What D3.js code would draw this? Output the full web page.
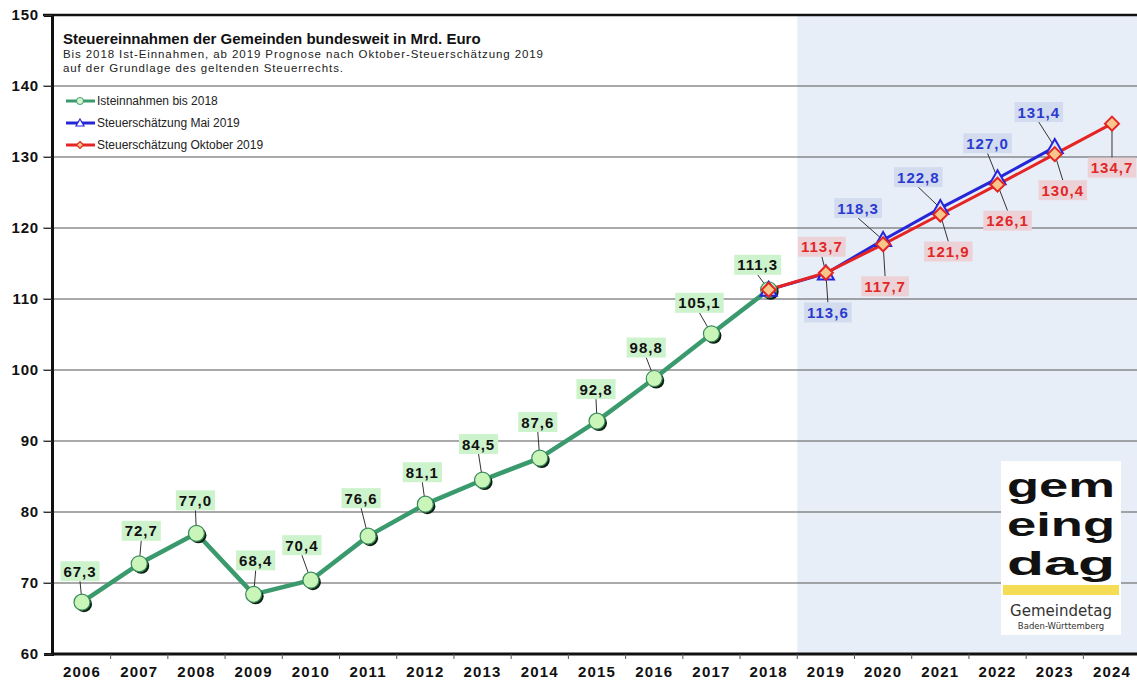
<!DOCTYPE html>
<html>
<head>
<meta charset="utf-8">
<script src="https://cdn.jsdelivr.net/npm/d3@7"></script>
<style>
  body { margin: 0; background: #fff; }
  svg { font-family: "Liberation Sans", Arial, sans-serif; }
</style>
</head>
<body>
<div id="chart"></div>
<script>
//data
const years = ["2006","2007","2008","2009","2010","2011","2012","2013","2014","2015","2016","2017","2018","2019","2020","2021","2022","2023","2024"];
const istYears = years.slice(0, 13);
const istValues = [67.3, 72.7, 77.0, 68.4, 70.4, 76.6, 81.1, 84.5, 87.6, 92.8, 98.8, 105.1, 111.3];
const maiYears = ["2018","2019","2020","2021","2022","2023"];
const maiValues = [111.3, 113.6, 118.3, 122.8, 127.0, 131.4];
const oktYears = ["2018","2019","2020","2021","2022","2023","2024"];
const oktValues = [111.3, 113.7, 117.7, 121.9, 126.1, 130.4, 134.7];
const yTicks = [60, 70, 80, 90, 100, 110, 120, 130, 140, 150];
const prognoseStart = "2019";

// label offsets (px) relative to the point, null = no label
const istLabelOff = [[-2,-31],[2,-33],[-1,-33],[2,-34],[-9,-35],[-7,-38],[-3,-32],[-4,-36],[-2,-36],[-1,-32],[-8,-31],[-12,-31],[-11,-25]];
const maiLabelOff = [null,[2,39],[-25,-32],[-22,-31],[-10,-35],[-16,-35]];
const oktLabelOff = [null,[-4,-26],[2,42],[8,37],[10,36],[8,36],[0,44]];

var width = 1137, height = 682;
const svg = d3.select("#chart").append("svg")
    .attr("width", width)
    .attr("height", height);

// layers
var gBg = svg.append("g"), gGrid = svg.append("g"), gAxis = svg.append("g"),
    gLeaders = svg.append("g"), gLines = svg.append("g"), gMarks = svg.append("g"),
    gLabels = svg.append("g"), gText = svg.append("g");

var x = d3.scaleBand().domain(years).range([53.4, 1140.6]).padding(0);
var y = d3.scaleLinear().domain([60, 150]).range([654, 15]);
var cx = function(d) { return x(d) + x.bandwidth() / 2; };
var fmt = function(v) { return v.toFixed(1).replace(".", ","); };

// prognose background
gBg.append("rect")
    .attr("x", x(prognoseStart)).attr("y", y(150))
    .attr("width", width - x(prognoseStart)).attr("height", y(60) - y(150))
    .attr("fill", "#e8eef7");

// grid
gGrid.selectAll("line").data(yTicks.filter(function(t) { return t > 60 && t < 150; }))
    .enter().append("line")
    .attr("x1", 43).attr("x2", width)
    .attr("y1", function(d) { return y(d); }).attr("y2", function(d) { return y(d); })
    .attr("stroke", "#555").attr("stroke-width", 1.2);
gGrid.append("line").attr("x1", 43).attr("x2", width).attr("y1", y(150)).attr("y2", y(150))
    .attr("stroke", "#111").attr("stroke-width", 2.5);

// axes
var yAxis = gAxis.append("g").attr("transform", "translate(52,0)")
    .call(d3.axisLeft(y).tickValues(yTicks).tickSize(8).tickPadding(5));
yAxis.select(".domain").attr("stroke", "#111").attr("stroke-width", 3);
yAxis.selectAll(".tick line").attr("stroke", "#333");
yAxis.selectAll("text").attr("font-size", 15).attr("font-weight", "bold").attr("fill", "#111")
    .attr("letter-spacing", 0.8).attr("font-family", "Liberation Sans, Arial");
gAxis.append("line").attr("x1", 52).attr("x2", width).attr("y1", y(60)).attr("y2", y(60))
    .attr("stroke", "#111").attr("stroke-width", 3);
// x ticks between categories
gAxis.append("g").selectAll("line").data(years.slice(1)).enter().append("line")
    .attr("x1", function(d) { return x(d); }).attr("x2", function(d) { return x(d); })
    .attr("y1", y(60)).attr("y2", y(60) + 5)
    .attr("stroke", "#555").attr("stroke-width", 1);
gAxis.append("g").selectAll("text").data(years).enter().append("text")
    .attr("x", cx).attr("y", 677)
    .attr("text-anchor", "middle").attr("font-size", 15).attr("font-weight", "bold").attr("fill", "#111")
    .attr("letter-spacing", 1.2)
    .text(function(d) { return d; });

// title
gText.append("text").attr("x", 63).attr("y", 44).attr("font-size", 15).attr("font-weight", "bold")
    .attr("fill", "#111").text("Steuereinnahmen der Gemeinden bundesweit in Mrd. Euro");
gText.append("text").attr("x", 63).attr("y", 58).attr("font-size", 11.5).attr("fill", "#222")
    .attr("textLength", 480).attr("lengthAdjust", "spacing")
    .text("Bis 2018 Ist-Einnahmen, ab 2019 Prognose nach Oktober-Steuerschätzung 2019");
gText.append("text").attr("x", 63).attr("y", 72).attr("font-size", 11.5).attr("fill", "#222")
    .attr("textLength", 280).attr("lengthAdjust", "spacing")
    .text("auf der Grundlage des geltenden Steuerrechts.");

// logo
var logo = gText.append("g");
logo.append("rect").attr("x", 1001).attr("y", 461).attr("width", 120).attr("height", 174).attr("fill", "#fff");
var logoRows = ["gem", "eing", "dag"];
logoRows.forEach(function(r, i) {
    logo.append("text").attr("x", 1061).attr("y", 497 + i * 39)
        .attr("text-anchor", "middle").attr("font-size", 34).attr("font-weight", "bold")
        .attr("fill", "#111").attr("textLength", 108).attr("lengthAdjust", "spacingAndGlyphs")
        .text(r);
});
logo.append("rect").attr("x", 1003).attr("y", 585).attr("width", 116).attr("height", 10).attr("fill", "#f5dc55");
logo.append("text").attr("x", 1061).attr("y", 616).attr("text-anchor", "middle")
    .attr("font-size", 15).attr("fill", "#333").attr("font-family", "DejaVu Sans, sans-serif")
    .attr("textLength", 102).text("Gemeindetag");
logo.append("text").attr("x", 1061).attr("y", 629).attr("text-anchor", "middle")
    .attr("font-size", 8.5).attr("fill", "#333").attr("font-family", "DejaVu Sans, sans-serif")
    .text("Baden-Württemberg");

// lines
var line = d3.line().x(function(d) { return cx(d[0]); }).y(function(d) { return y(d[1]); });
var istData = d3.zip(istYears, istValues);
var maiData = d3.zip(maiYears, maiValues);
var oktData = d3.zip(oktYears, oktValues);

gLines.append("path").datum(istData).attr("d", line).attr("fill", "none")
    .attr("stroke", "#3a9a6e").attr("stroke-width", 4.5).attr("stroke-linejoin", "round");
gLines.append("path").datum(maiData).attr("d", line).attr("fill", "none")
    .attr("stroke", "#2626d9").attr("stroke-width", 3);
gLines.append("path").datum(oktData).attr("d", line).attr("fill", "none")
    .attr("stroke", "#e52424").attr("stroke-width", 3);

// markers
function greenMarker(g, px, py) {
    g.append("circle").attr("cx", px + 2).attr("cy", py + 2).attr("r", 8).attr("fill", "#0d1f12");
    g.append("circle").attr("cx", px).attr("cy", py).attr("r", 8)
        .attr("fill", "#c9f5b9").attr("stroke", "#3a8a5c").attr("stroke-width", 1.2);
}
function blueMarker(g, px, py) {
    g.append("path").attr("transform", "translate(" + px + "," + py + ")")
        .attr("d", "M0,-8L8,6L-8,6Z").attr("fill", "#dfe4f7").attr("stroke", "#2626d9").attr("stroke-width", 2);
}
function redMarker(g, px, py) {
    g.append("path").attr("transform", "translate(" + px + "," + py + ")")
        .attr("d", "M0,-7L7,0L0,7L-7,0Z").attr("fill", "#f6c68a").attr("stroke", "#e52424").attr("stroke-width", 2);
}
istData.forEach(function(d) { greenMarker(gMarks, cx(d[0]), y(d[1])); });
maiData.forEach(function(d) { blueMarker(gMarks, cx(d[0]), y(d[1])); });
oktData.forEach(function(d) { redMarker(gMarks, cx(d[0]), y(d[1])); });

// labels with leader lines
function addLabels(data, offs, bg, fg) {
    data.forEach(function(d, i) {
        var o = offs[i];
        if (!o) return;
        var px = cx(d[0]), py = y(d[1]);
        var lx = px + o[0], ly = py + o[1];
        var g = gLabels.append("g");
        var rect = g.append("rect");
        var t = g.append("text").attr("x", lx).attr("y", ly + 5.5)
            .attr("text-anchor", "middle").attr("font-size", 15).attr("font-weight", "bold")
            .attr("letter-spacing", 1).attr("fill", fg).text(fmt(d[1]));
        var w = t.node().getComputedTextLength() + 6;
        rect.attr("x", lx - w / 2).attr("y", ly - 10)
            .attr("width", w).attr("height", 20).attr("fill", bg);
        // leader from box edge to the point
        var ey = o[1] < 0 ? ly + 10 : ly - 10;
        gLeaders.append("line")
            .attr("x1", lx).attr("y1", ey).attr("x2", px).attr("y2", py)
            .attr("stroke", "#333").attr("stroke-width", 1);
    });
}
addLabels(istData, istLabelOff, "#cdf3cd", "#111");
addLabels(maiData, maiLabelOff, "#d3dbef", "#2a3ad0");
addLabels(oktData, oktLabelOff, "#ecd2d6", "#e02828");

// legend
var legend = [
    { name: "Isteinnahmen bis 2018", color: "#3a9a6e", m: "circle" },
    { name: "Steuerschätzung Mai 2019", color: "#2626d9", m: "tri" },
    { name: "Steuerschätzung Oktober 2019", color: "#e52424", m: "dia" }
];
legend.forEach(function(l, i) {
    var ly = 101 + i * 22;
    gText.append("line").attr("x1", 66).attr("x2", 95).attr("y1", ly).attr("y2", ly)
        .attr("stroke", l.color).attr("stroke-width", 3);
    if (l.m == "circle") gText.append("circle").attr("cx", 80).attr("cy", ly).attr("r", 3.5)
        .attr("fill", "#d6f7d0").attr("stroke", l.color).attr("stroke-width", 1);
    if (l.m == "tri") gText.append("path").attr("transform", "translate(80," + ly + ")")
        .attr("d", "M0,-4L4,3L-4,3Z").attr("fill", "#fff").attr("stroke", l.color).attr("stroke-width", 1.2);
    if (l.m == "dia") gText.append("path").attr("transform", "translate(80," + ly + ")")
        .attr("d", "M0,-3.5L3.5,0L0,3.5L-3.5,0Z").attr("fill", "#f6c68a").attr("stroke", l.color).attr("stroke-width", 1.2);
    gText.append("text").attr("x", 97).attr("y", ly + 4).attr("font-size", 12).attr("fill", "#222")
        .text(l.name);
});
</script>
</body>
</html>
